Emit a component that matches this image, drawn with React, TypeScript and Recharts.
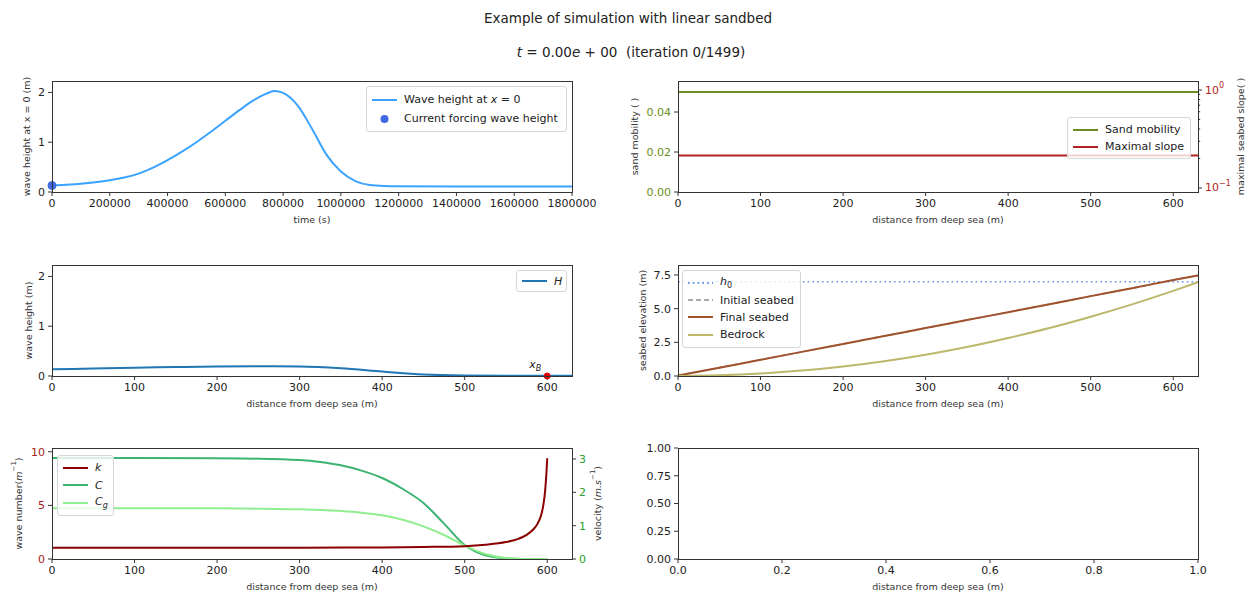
import React from "react";
import { ComposedChart, Line, XAxis, YAxis, ReferenceDot } from "recharts";

const FONT = "'DejaVu Sans', sans-serif";

// forcing wave height at x = 0 over time
const timeS = [0, 50000, 100000, 150000, 200000, 250000, 300000, 350000, 400000, 450000, 500000, 550000, 600000, 650000, 700000, 740000, 770000, 800000, 850000, 900000, 950000, 1000000, 1050000, 1100000, 1150000, 1200000, 1400000, 1600000, 1800000];
const waveAtX0 = [0.13, 0.145, 0.165, 0.195, 0.235, 0.29, 0.37, 0.49, 0.64, 0.81, 1.0, 1.21, 1.43, 1.65, 1.85, 1.97, 2.03, 1.99, 1.74, 1.27, 0.75, 0.41, 0.22, 0.14, 0.12, 0.115, 0.11, 0.11, 0.11];
const forcingT = 0;
const forcingH = 0.13;
const timeTicks = [0, 200000, 400000, 600000, 800000, 1000000, 1200000, 1400000, 1600000, 1800000];

// wave height along the profile
const xH = [0, 50, 100, 150, 200, 250, 300, 350, 400, 450, 500, 550, 600, 630];
const waveH = [0.135, 0.15, 0.165, 0.18, 0.19, 0.195, 0.19, 0.155, 0.09, 0.03, 0.01, 0.005, 0.003, 0.003];
const xB = 600;
const heightTicks = [0, 1, 2];

// sand mobility / maximal slope
const xFlat = [0, 630];
const sandMobility = [0.05, 0.05];
const maxSlope = [0.214, 0.214];
const mobilityTicks = [0, 0.02, 0.04];
const slopeTicks = [0.1, 0.2, 0.3, 0.4, 0.5, 0.6, 0.7, 0.8, 0.9, 1];

// seabed
const h0Level = [7, 7];
const xBed = [0, 50, 100, 150, 200, 250, 300, 350, 400, 450, 500, 550, 600, 630];
const initialBed = [0.03, 0.62, 1.2, 1.79, 2.38, 2.97, 3.56, 4.15, 4.74, 5.33, 5.93, 6.52, 7.12, 7.47];
const finalBed = [0.03, 0.62, 1.2, 1.79, 2.38, 2.97, 3.56, 4.15, 4.74, 5.33, 5.93, 6.52, 7.12, 7.47];
const bedrock = [0, 0.05, 0.18, 0.4, 0.71, 1.1, 1.58, 2.15, 2.82, 3.56, 4.4, 5.32, 6.32, 6.96];
const elevTicks = [0, 2.5, 5, 7.5];

// wave number and velocities
const xK = [0, 100, 200, 300, 400, 450, 500, 525, 550, 565, 575, 583, 588, 592, 595, 597.5, 599, 600];
const kVals = [1.05, 1.05, 1.05, 1.06, 1.08, 1.12, 1.2, 1.33, 1.58, 1.88, 2.25, 2.75, 3.25, 3.95, 4.9, 6.4, 8.0, 9.4];
const xV = [0, 100, 200, 250, 300, 325, 350, 375, 400, 425, 450, 475, 500, 525, 550, 575, 600];
const cVals = [3.03, 3.03, 3.02, 3.01, 2.97, 2.91, 2.81, 2.65, 2.43, 2.1, 1.68, 1.06, 0.42, 0.11, 0.02, 0.0, 0.0];
const cgVals = [1.52, 1.52, 1.52, 1.51, 1.49, 1.47, 1.44, 1.39, 1.31, 1.18, 0.98, 0.72, 0.4, 0.15, 0.03, 0.0, 0.0];
const kTicks = [0, 5, 10];
const vTicks = [0, 1, 2, 3];

const distTicks = [0, 100, 200, 300, 400, 500, 600];
const unitXTicks = [0, 0.2, 0.4, 0.6, 0.8, 1];
const unitYTicks = [0, 0.25, 0.5, 0.75, 1];

const zip = (xs: number[], ys: number[]) => xs.map((x, i) => ({ x, y: ys[i] }));

const COL = [52, 678];
const ROW = [81, 265, 448];
const PW = 520;
const PH = 111;
const LW = 60;
const RW = 60;
const TM = 10;
const XH = 45;

const tickStyle = { fontSize: 11, fill: "#222", fontFamily: FONT };

const xTitle = (text: React.ReactNode) => () => (
  <text x={LW + PW / 2} y={TM + PH + 27} textAnchor="middle" dominantBaseline="central" fontSize={9.5} fill="#333" fontFamily={FONT}>
    {text}
  </text>
);

const yTitle = (text: React.ReactNode, pageX: number, px: number) => () => {
  const x = pageX - px + LW;
  const y = TM + PH / 2;
  return (
    <text x={x} y={y} transform={`rotate(-90 ${x} ${y})`} textAnchor="middle" dominantBaseline="central" fontSize={9.5} fill="#333" fontFamily={FONT}>
      {text}
    </text>
  );
};

const SlopeTick = (props: any) => {
  const { x, y, payload } = props;
  const lg = Math.log10(payload.value);
  const major = Math.abs(lg - Math.round(lg)) < 1e-6;
  const x0 = x - 7;
  return (
    <g>
      <line x1={x0} x2={x0 + (major ? 4 : 2.2)} y1={y} y2={y} stroke="#333" strokeWidth={1} />
      {major && (
        <text x={x} y={y} dominantBaseline="central" fontSize={11} fill="#b22222" fontFamily={FONT}>
          10
          <tspan dy={-5} fontSize={8}>{Math.round(lg) === 0 ? "0" : "\u2212" + Math.abs(Math.round(lg))}</tspan>
        </text>
      )}
    </g>
  );
};

const Panel = ({ px, py, right, data, children }: { px: number; py: number; right?: boolean; data?: any[]; children: React.ReactNode }) => (
  <div style={{ position: "absolute", left: px - LW, top: py - TM }}>
    <ComposedChart width={PW + LW + RW} height={PH + TM + XH} data={data} margin={{ top: TM, right: right ? 0 : RW, bottom: 0, left: 0 }}>
      {children}
    </ComposedChart>
    <div style={{ position: "absolute", left: LW, top: TM, width: PW + 1, height: PH + 1, border: "1px solid #333", boxSizing: "border-box", pointerEvents: "none" }} />
  </div>
);

type LegendItem = { label: React.ReactNode; color: string; dash?: string; marker?: boolean };

const LegendBox = ({ left, top, width, rowH, items }: { left: number; top: number; width: number; rowH: number; items: LegendItem[] }) => (
  <div style={{ position: "absolute", left, top, width, boxSizing: "border-box", border: "1px solid #d6d6d6", borderRadius: 3, background: "rgba(255,255,255,0.8)", padding: "3px 0 3px 5px", fontFamily: FONT, fontSize: 11, color: "#222" }}>
    {items.map((it, i) => (
      <div key={i} style={{ display: "flex", alignItems: "center", height: rowH, whiteSpace: "nowrap" }}>
        <svg width={25} height={10} style={{ flex: "none" }}>
          {it.marker ? (
            <circle cx={12.5} cy={5} r={4} fill={it.color} />
          ) : (
            <line x1={0} x2={25} y1={5} y2={5} stroke={it.color} strokeWidth={2} strokeDasharray={it.dash} />
          )}
        </svg>
        <span style={{ marginLeft: 7 }}>{it.label}</span>
      </div>
    ))}
  </div>
);

const axisCommon = { tickSize: 4, tickMargin: 3, axisLine: false, tickLine: { stroke: "#333" }, interval: 0 as const, tick: tickStyle };

export default function App() {
  return (
    <div style={{ position: "absolute", left: 0, top: 0, width: 1250, height: 597, background: "#fff", overflow: "hidden", fontFamily: FONT }}>
      <div style={{ position: "absolute", left: 0, top: 9, width: 1256, textAlign: "center", fontSize: 13.5, lineHeight: "18px", color: "#222" }}>
        Example of simulation with linear sandbed
      </div>
      <div style={{ position: "absolute", left: 0, top: 43, width: 1262, textAlign: "center", fontSize: 13.5, lineHeight: "18px", color: "#222", whiteSpace: "pre" }}>
        <i>t</i> = 0.00<i>e</i> + 00{"  "}(iteration 0/1499)
      </div>

      {/* wave height at x = 0 vs time */}
      <Panel px={COL[0]} py={ROW[0]}>
        <XAxis type="number" dataKey="x" domain={[0, 1800000]} ticks={timeTicks} height={XH} {...axisCommon} label={xTitle("time (s)")} />
        <YAxis type="number" domain={[0, 2.23]} ticks={heightTicks} width={LW} allowDataOverflow {...axisCommon} label={yTitle("wave height at x = 0 (m)", 26, COL[0])} />
        <Line data={zip(timeS, waveAtX0)} dataKey="y" type="monotone" stroke="#3ba3ff" strokeWidth={2} dot={false} isAnimationActive={false} />
        <ReferenceDot x={forcingT} y={forcingH} r={4} fill="#4169e1" stroke="#4169e1" ifOverflow="visible" />
      </Panel>

      {/* sand mobility / maximal slope */}
      <Panel px={COL[1]} py={ROW[0]} right>
        <XAxis type="number" dataKey="x" domain={[0, 630]} ticks={distTicks} height={XH} {...axisCommon} label={xTitle("distance from deep sea (m)")} />
        <YAxis yAxisId="mob" type="number" domain={[0, 0.0555]} ticks={mobilityTicks} width={LW} allowDataOverflow {...axisCommon} tick={{ ...tickStyle, fill: "#6b8e23" }} tickFormatter={(v: number) => v.toFixed(2)} label={yTitle("sand mobility ( )", 634, COL[1])} />
        <YAxis yAxisId="slope" orientation="right" type="number" scale="log" domain={[0.091, 1.236]} ticks={slopeTicks} width={RW} allowDataOverflow tickSize={4} tickMargin={3} axisLine={false} tickLine={false} interval={0} tick={SlopeTick} label={yTitle("maximal seabed slope( )", 1240, COL[1])} />
        <Line yAxisId="mob" data={zip(xFlat, sandMobility)} dataKey="y" stroke="#6b8e23" strokeWidth={2} dot={false} isAnimationActive={false} />
        <Line yAxisId="slope" data={zip(xFlat, maxSlope)} dataKey="y" stroke="#b22222" strokeWidth={2} dot={false} isAnimationActive={false} />
      </Panel>

      {/* wave height along profile */}
      <Panel px={COL[0]} py={ROW[1]}>
        <XAxis type="number" dataKey="x" domain={[0, 630]} ticks={distTicks} height={XH} {...axisCommon} label={xTitle("distance from deep sea (m)")} />
        <YAxis type="number" domain={[0, 2.23]} ticks={heightTicks} width={LW} allowDataOverflow {...axisCommon} label={yTitle("wave height (m)", 28, COL[0])} />
        <Line data={zip(xH, waveH)} dataKey="y" type="monotone" stroke="#1f77b4" strokeWidth={2} dot={false} isAnimationActive={false} />
        <ReferenceDot
          x={xB}
          y={0}
          r={3}
          fill="#e00000"
          stroke="#e00000"
          ifOverflow="visible"
          label={(p: any) => {
            const vb = p.viewBox || { x: 0, y: 0 };
            return (
              <text x={vb.x - 9} y={vb.y - 5} textAnchor="middle" fontSize={11} fill="#222" fontFamily={FONT}>
                <tspan fontStyle="italic">x</tspan>
                <tspan fontStyle="italic" fontSize={8} dy={3}>B</tspan>
              </text>
            );
          }}
        />
      </Panel>

      {/* seabed */}
      <Panel px={COL[1]} py={ROW[1]}>
        <XAxis type="number" dataKey="x" domain={[0, 630]} ticks={distTicks} height={XH} {...axisCommon} label={xTitle("distance from deep sea (m)")} />
        <YAxis type="number" domain={[0, 8.24]} ticks={elevTicks} width={LW} allowDataOverflow {...axisCommon} tickFormatter={(v: number) => v.toFixed(1)} label={yTitle("seabed elevation (m)", 642, COL[1])} />
        <Line data={zip(xFlat, h0Level)} dataKey="y" stroke="#6495ed" strokeWidth={1.6} strokeDasharray="1.6 3.2" dot={false} isAnimationActive={false} />
        <Line data={zip(xBed, initialBed)} dataKey="y" stroke="#aaaaaa" strokeWidth={1.6} strokeDasharray="5 3" dot={false} isAnimationActive={false} />
        <Line data={zip(xBed, finalBed)} dataKey="y" type="monotone" stroke="#a0522d" strokeWidth={2} dot={false} isAnimationActive={false} />
        <Line data={zip(xBed, bedrock)} dataKey="y" type="monotone" stroke="#bdb76b" strokeWidth={2} dot={false} isAnimationActive={false} />
      </Panel>

      {/* wave number and velocities */}
      <Panel px={COL[0]} py={ROW[2]} right>
        <XAxis type="number" dataKey="x" domain={[0, 630]} ticks={distTicks} height={XH} {...axisCommon} label={xTitle("distance from deep sea (m)")} />
        <YAxis yAxisId="k" type="number" domain={[0, 10.35]} ticks={kTicks} width={LW} allowDataOverflow {...axisCommon} tick={{ ...tickStyle, fill: "#a32020" }}
          label={yTitle(<>wave number(<tspan fontStyle="italic">m</tspan><tspan dy={-4} fontSize={7}>{"\u22121"}</tspan><tspan dy={4}>)</tspan></>, 18, COL[0])} />
        <YAxis yAxisId="v" orientation="right" type="number" domain={[0, 3.33]} ticks={vTicks} width={RW} allowDataOverflow {...axisCommon} tick={{ ...tickStyle, fill: "#2ca02c" }}
          label={yTitle(<>velocity (<tspan fontStyle="italic">m.s</tspan><tspan dy={-4} fontSize={7}>{"\u22121"}</tspan><tspan dy={4}>)</tspan></>, 597, COL[0])} />
        <Line yAxisId="v" data={zip(xV, cVals)} dataKey="y" type="monotone" stroke="#3cb371" strokeWidth={2} dot={false} isAnimationActive={false} />
        <Line yAxisId="v" data={zip(xV, cgVals)} dataKey="y" type="monotone" stroke="#90ee90" strokeWidth={2} dot={false} isAnimationActive={false} />
        <Line yAxisId="k" data={zip(xK, kVals)} dataKey="y" type="monotone" stroke="#8b0000" strokeWidth={2} dot={false} isAnimationActive={false} />
      </Panel>

      {/* empty axes */}
      <Panel px={COL[1]} py={ROW[2]} data={unitXTicks.map((x) => ({ x }))}>
        <XAxis type="number" dataKey="x" domain={[0, 1]} ticks={unitXTicks} height={XH} {...axisCommon} tickFormatter={(v: number) => v.toFixed(1)} label={xTitle("distance from deep sea (m)")} />
        <YAxis type="number" domain={[0, 1]} ticks={unitYTicks} width={LW} allowDataOverflow {...axisCommon} tickFormatter={(v: number) => v.toFixed(2)} />
      </Panel>

      <LegendBox left={366} top={86} width={201} rowH={19}
        items={[
          { label: <>Wave height at <i>x</i> = 0</>, color: "#3ba3ff" },
          { label: "Current forcing wave height", color: "#4169e1", marker: true },
        ]} />
      <LegendBox left={1067} top={117} width={124} rowH={17}
        items={[
          { label: "Sand mobility", color: "#6b8e23" },
          { label: "Maximal slope", color: "#b22222" },
        ]} />
      <LegendBox left={516} top={270} width={51} rowH={14}
        items={[{ label: <i>H</i>, color: "#1f77b4" }]} />
      <LegendBox left={682} top={270} width={119} rowH={17.4}
        items={[
          { label: <><i>h</i><sub style={{ fontSize: 8 }}>0</sub></>, color: "#6495ed", dash: "1.6 3.2" },
          { label: "Initial seabed", color: "#aaaaaa", dash: "5 3" },
          { label: "Final seabed", color: "#a0522d" },
          { label: "Bedrock", color: "#bdb76b" },
        ]} />
      <LegendBox left={57} top={455} width={57} rowH={17.5}
        items={[
          { label: <i>k</i>, color: "#8b0000" },
          { label: <i>C</i>, color: "#3cb371" },
          { label: <><i>C</i><sub style={{ fontSize: 8 }}><i>g</i></sub></>, color: "#90ee90" },
        ]} />
    </div>
  );
}
